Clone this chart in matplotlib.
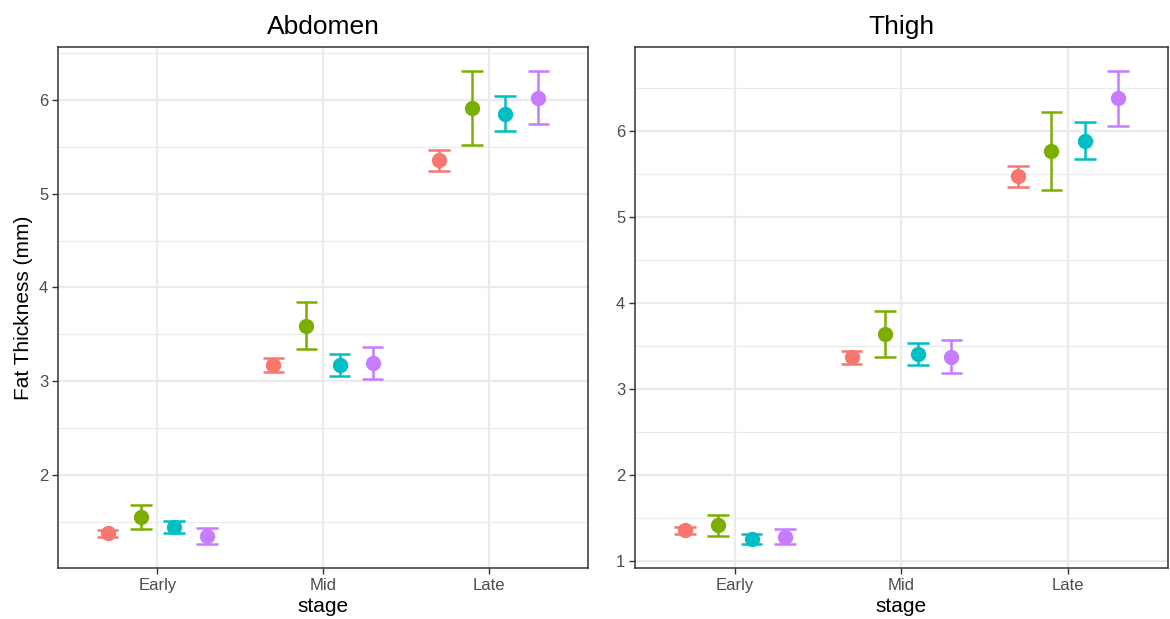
import numpy as np
import matplotlib
matplotlib.use("Agg")
import matplotlib.pyplot as plt

plt.rcParams["font.family"] = ["Liberation Sans", "DejaVu Sans"]

STAGES = ["Early", "Mid", "Late"]
GROUP_COLORS = ["#F8766D", "#7CAE00", "#00BFC4", "#C77CFF"]

# mean and half-width of error bar, per group (rows) x stage (cols)
ABD_MEAN = [
    [1.38, 3.175, 5.355],
    [1.55, 3.595, 5.915],
    [1.452, 3.178, 5.850],
    [1.353, 3.195, 6.024],
]
ABD_ERR = [
    [0.04, 0.075, 0.11],
    [0.128, 0.25, 0.395],
    [0.065, 0.118, 0.185],
    [0.089, 0.175, 0.28],
]
THI_MEAN = [
    [1.35, 3.363, 5.466],
    [1.408, 3.635, 5.762],
    [1.251, 3.40, 5.882],
    [1.277, 3.371, 6.376],
]
THI_ERR = [
    [0.046, 0.075, 0.127],
    [0.12, 0.27, 0.457],
    [0.062, 0.125, 0.212],
    [0.088, 0.19, 0.32],
]

DODGE = [-0.3, -0.1, 0.1, 0.3]
CAP_W = 0.13


def panel(ax, means, errs, title, ylabel=None):
    means = np.array(means)
    errs = np.array(errs)
    x = np.arange(len(STAGES))
    for g in range(means.shape[0]):
        xs = x + DODGE[g]
        lo = means[g] - errs[g]
        hi = means[g] + errs[g]
        c = GROUP_COLORS[g]
        ax.vlines(xs, lo, hi, color=c, lw=1.8, zorder=3)
        ax.hlines(lo, xs - CAP_W / 2, xs + CAP_W / 2, color=c, lw=1.8, zorder=3)
        ax.hlines(hi, xs - CAP_W / 2, xs + CAP_W / 2, color=c, lw=1.8, zorder=3)
        ax.plot(xs, means[g], "o", color=c, ms=11, mew=0, zorder=4)

    lo_all = (means - errs).min()
    hi_all = (means + errs).max()
    pad = (hi_all - lo_all) * 0.05
    ymin, ymax = lo_all - pad, hi_all + pad

    ymaj = np.arange(1, 7)
    ymaj = ymaj[(ymaj >= ymin) & (ymaj <= ymax)]
    ymin_ticks = np.arange(0.5, 7.5, 1.0)
    ymin_ticks = ymin_ticks[(ymin_ticks >= ymin) & (ymin_ticks <= ymax)]
    ax.set_yticks(ymaj)
    ax.set_yticks(ymin_ticks, minor=True)
    ax.set_xticks(x)
    ax.set_xticklabels(STAGES)
    ax.set_ylim(ymin, ymax)
    ax.set_xlim(-0.6, len(STAGES) - 0.4)

    ax.grid(True, which="major", color="#EBEBEB", lw=1.6, zorder=0)
    ax.grid(True, which="minor", axis="y", color="#EBEBEB", lw=0.8, zorder=0)
    ax.set_axisbelow(True)
    ax.tick_params(which="minor", length=0)
    ax.tick_params(which="major", length=4, width=1, color="#333333",
                   labelsize=12, labelcolor="#4D4D4D", pad=3)
    for s in ax.spines.values():
        s.set_color("#333333")
        s.set_linewidth(1.1)

    ax.set_title(title, fontsize=19, pad=9)
    ax.set_xlabel("stage", fontsize=15, labelpad=3)
    if ylabel:
        ax.set_ylabel(ylabel, fontsize=15, labelpad=4)


fig = plt.figure(figsize=(11.70, 6.19), dpi=100)
ax1 = fig.add_axes([0.0496, 0.0824, 0.453, 0.8417])
ax2 = fig.add_axes([0.5427, 0.0824, 0.4556, 0.8417])

panel(ax1, ABD_MEAN, ABD_ERR, "Abdomen", ylabel="Fat Thickness (mm)")
panel(ax2, THI_MEAN, THI_ERR, "Thigh")

fig.savefig("out.png", dpi=100)
